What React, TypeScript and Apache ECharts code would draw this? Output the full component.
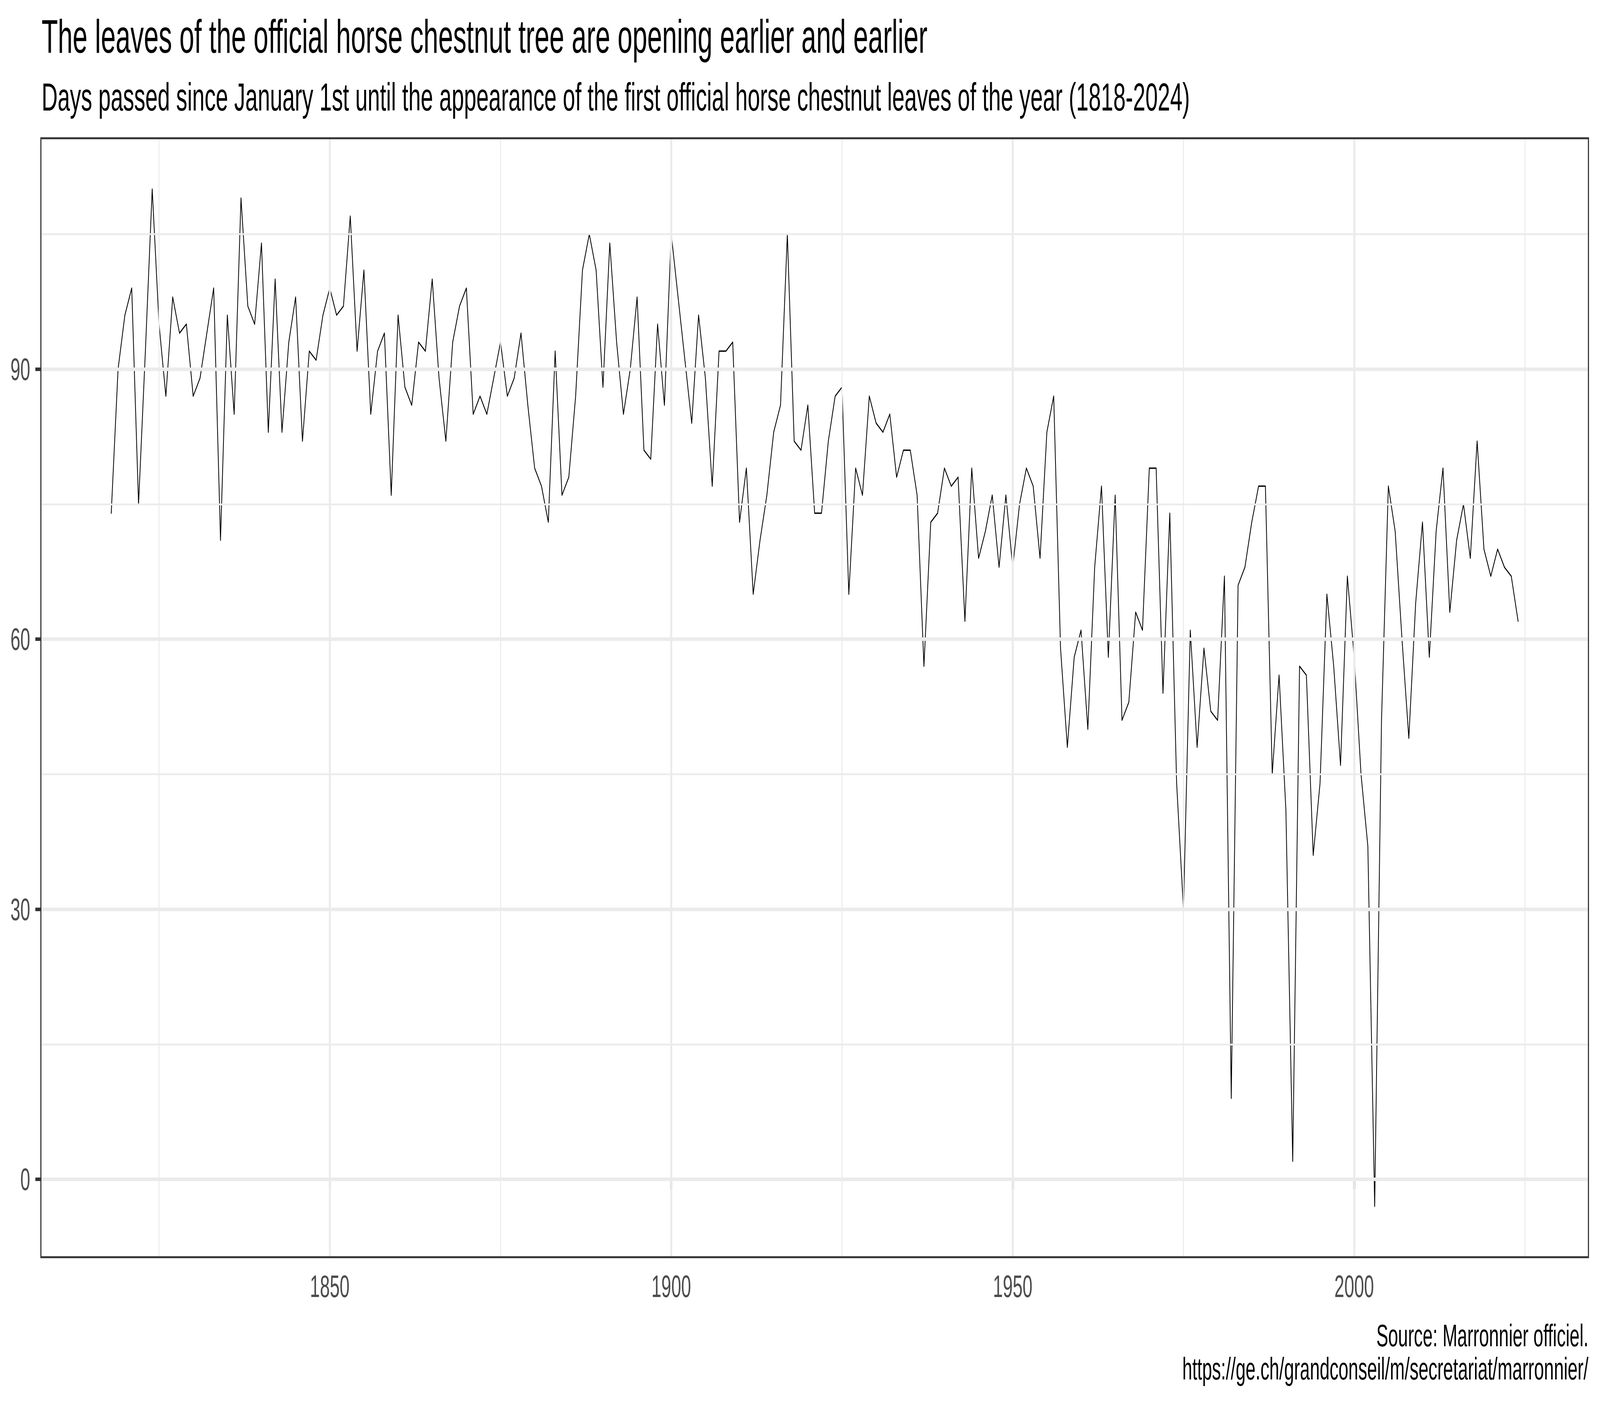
import React, { useEffect, useRef, useState } from "react";
import * as echarts from "echarts";

// ---- Data (days since January 1st until first official leaves) ----
const START_1818 = 1818;
const VALUES_1818_1849 = [74, 90, 96, 99, 75, 92, 110, 95, 87, 98, 94, 95, 87, 89, 94, 99, 71, 96, 85, 109, 97, 95, 104, 83, 100, 83, 93, 98, 82, 92, 91, 96];
const START_1850 = 1850;
const VALUES_1850_1884 = [99, 96, 97, 107, 92, 101, 85, 92, 94, 76, 96, 88, 86, 93, 92, 100, 89, 82, 93, 97, 99, 85, 87, 85, 89, 93, 87, 89, 94, 86, 79, 77, 73, 92, 76];
const START_1885 = 1885;
const VALUES_1885_1918 = [78, 87, 101, 105, 101, 88, 104, 93, 85, 90, 98, 81, 80, 95, 86, 105, 98, 91, 84, 96, 89, 77, 92, 92, 93, 73, 79, 65, 71, 76, 83, 86, 105, 82];
const START_1919 = 1919;
const VALUES_1919_1954 = [81, 86, 74, 74, 82, 87, 88, 65, 79, 76, 87, 84, 83, 85, 78, 81, 81, 76, 57, 73, 74, 79, 77, 78, 62, 79, 69, 72, 76, 68, 76, 68, 75, 79, 77, 69];
const START_1955 = 1955;
const VALUES_1955_1990 = [83, 87, 59, 48, 58, 61, 50, 68, 77, 58, 76, 51, 53, 63, 61, 79, 79, 54, 74, 44, 30, 61, 48, 59, 52, 51, 67, 9, 66, 68, 73, 77, 77, 45, 56, 41];
const START_1991 = 1991;
const VALUES_1991_2024 = [2, 57, 56, 36, 44, 65, 57, 46, 67, 58, 45, 37, -3, 51, 77, 72, 60, 49, 64, 73, 58, 72, 79, 63, 71, 75, 69, 82, 70, 67, 70, 68, 67, 62];

const SEGMENTS: [number, number[]][] = [
  [START_1818, VALUES_1818_1849],
  [START_1850, VALUES_1850_1884],
  [START_1885, VALUES_1885_1918],
  [START_1919, VALUES_1919_1954],
  [START_1955, VALUES_1955_1990],
  [START_1991, VALUES_1991_2024],
];

// ---- Axis ticks ----
const X_TICKS = [1850, 1900, 1950, 2000];
const X_MINOR = [1825, 1875, 1925, 1975, 2025];
const Y_TICKS = [0, 30, 60, 90];
const Y_MINOR = [15, 45, 75, 105];
const X_MIN = 1807.7;
const X_MAX = 2034.3;
const Y_MIN = -8.65;
const Y_MAX = 115.65;

// ---- Texts ----
const TITLE = "The leaves of the official horse chestnut tree are opening earlier and earlier";
const SUBTITLE =
  "Days passed since January 1st until the appearance of the first official horse chestnut leaves of the year (1818-2024)";
const CAPTION_1 = "Source: Marronnier officiel.";
const CAPTION_2 = "https://ge.ch/grandconseil/m/secretariat/marronnier/";

const FONT = '"Liberation Sans", Arial, Helvetica, sans-serif';

// design size (the reference picture)
const W = 7200;
const H = 3600;
const G_LEFT = 184;
const G_RIGHT = 7148;
const G_TOP = 354;
const G_BOTTOM = 3219;

function getViewport() {
  const vw = typeof window !== "undefined" && window.innerWidth ? window.innerWidth : W;
  const vh = typeof window !== "undefined" && window.innerHeight ? window.innerHeight : H;
  return { vw, vh };
}

export default function App() {
  const ref = useRef<HTMLDivElement>(null);
  const [vp] = useState(getViewport);

  useEffect(() => {
    document.body.style.margin = "0";
    document.body.style.overflow = "hidden";
    if (!ref.current) return;
    const chart = echarts.init(ref.current, undefined, { renderer: "svg", width: W, height: H });

    const points: [number, number][] = [];
    SEGMENTS.forEach(([start, vals]) => {
      vals.forEach((v, i) => points.push([start + i, v]));
    });

    const minorStyle = { width: 4.5, color: "#EBEBEB", type: "solid" };
    const majorStyle = { width: 9, color: "#EBEBEB", type: "solid" };
    const gridLines: any[] = [];
    X_MINOR.forEach((x) => gridLines.push({ xAxis: x, lineStyle: minorStyle }));
    Y_MINOR.forEach((y) => gridLines.push({ yAxis: y, lineStyle: minorStyle }));
    X_TICKS.forEach((x) => gridLines.push({ xAxis: x, lineStyle: majorStyle }));
    Y_TICKS.forEach((y) => gridLines.push({ yAxis: y, lineStyle: majorStyle }));

    const option: any = {
      animation: false,
      backgroundColor: "#FFFFFF",
      grid: {
        left: G_LEFT,
        right: W - G_RIGHT,
        top: G_TOP,
        bottom: H - G_BOTTOM,
        containLabel: false,
      },
      xAxis: {
        type: "value",
        min: X_MIN,
        max: X_MAX,
        axisLine: { show: false },
        axisTick: {
          show: true,
          inside: false,
          length: 25,
          customValues: X_TICKS,
          lineStyle: { color: "#333333", width: 9 },
        },
        axisLabel: {
          customValues: X_TICKS,
          margin: 34,
          fontSize: 80,
          color: "#4D4D4D",
          fontFamily: FONT,
          formatter: (v: number) => String(Math.round(v)),
        },
        splitLine: { show: false },
      },
      yAxis: {
        type: "value",
        min: Y_MIN,
        max: Y_MAX,
        axisLine: { show: false },
        axisTick: {
          show: true,
          inside: false,
          length: 25,
          customValues: Y_TICKS,
          lineStyle: { color: "#333333", width: 9 },
        },
        axisLabel: {
          customValues: Y_TICKS,
          margin: 48,
          fontSize: 80,
          color: "#4D4D4D",
          fontFamily: FONT,
          formatter: (v: number) => String(Math.round(v)),
        },
        splitLine: { show: false },
      },
      series: [
        {
          type: "line",
          data: [],
          z: 1,
          silent: true,
          markLine: {
            silent: true,
            symbol: ["none", "none"],
            label: { show: false },
            emphasis: { disabled: true },
            animation: false,
            data: gridLines,
          },
        },
        {
          type: "line",
          data: points,
          z: 3,
          silent: true,
          showSymbol: false,
          symbol: "none",
          lineStyle: { color: "#000000", width: 3.5, join: "round", cap: "round" },
          emphasis: { disabled: true },
        },
      ],
      graphic: [
        {
          type: "rect",
          z: 100,
          silent: true,
          shape: { x: G_LEFT, y: G_TOP, width: G_RIGHT - G_LEFT, height: G_BOTTOM - G_TOP },
          style: { fill: "none", stroke: "#333333", lineWidth: 5 },
        },
        {
          type: "text",
          x: 187,
          y: 94,
          silent: true,
          style: { text: TITLE, fontSize: 120, fontFamily: FONT, fill: "#000000", align: "left", verticalAlign: "middle" },
        },
        {
          type: "text",
          x: 187,
          y: 248,
          silent: true,
          style: { text: SUBTITLE, fontSize: 100, fontFamily: FONT, fill: "#000000", align: "left", verticalAlign: "middle" },
        },
        {
          type: "text",
          x: 7148,
          y: 3419,
          silent: true,
          style: { text: CAPTION_1, fontSize: 80, fontFamily: FONT, fill: "#000000", align: "right", verticalAlign: "middle" },
        },
        {
          type: "text",
          x: 7148,
          y: 3504,
          silent: true,
          style: { text: CAPTION_2, fontSize: 80, fontFamily: FONT, fill: "#000000", align: "right", verticalAlign: "middle" },
        },
      ],
    };

    chart.setOption(option);
    return () => {
      chart.dispose();
    };
  }, []);

  const sx = vp.vw / W;
  const sy = vp.vh / H;

  return (
    <div style={{ width: vp.vw, height: vp.vh, overflow: "hidden", position: "relative" }}>
      <div
        ref={ref}
        style={{
          width: W,
          height: H,
          position: "absolute",
          left: 0,
          top: 0,
          transformOrigin: "0 0",
          transform: `scale(${sx}, ${sy})`,
        }}
      />
    </div>
  );
}
